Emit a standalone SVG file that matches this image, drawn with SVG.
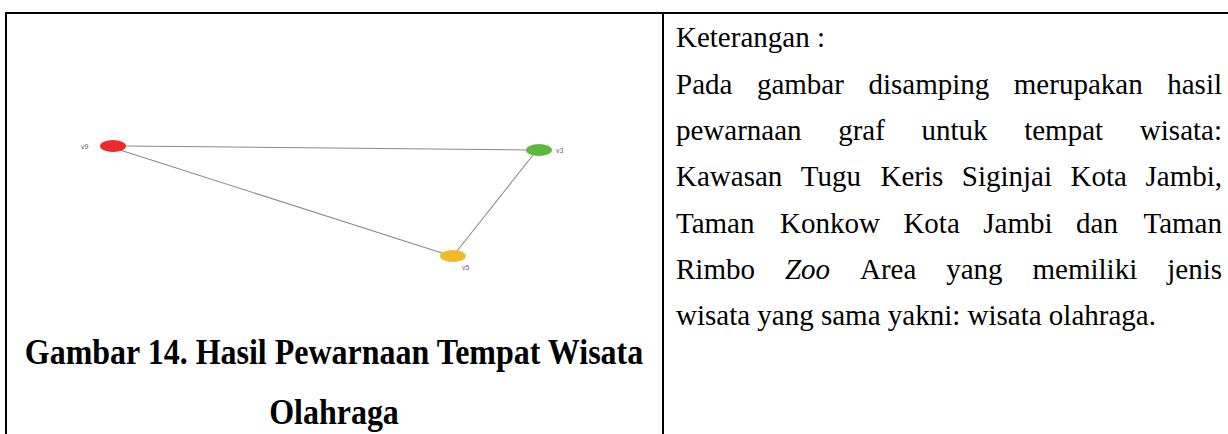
<svg xmlns="http://www.w3.org/2000/svg" width="1228" height="434" viewBox="0 0 1228 434">
  <style>
    .rule { stroke: #000; stroke-width: 2; fill: none; }
    .edge { stroke: #8a8a8a; stroke-width: 1.1; fill: none; }
    .vlabel { font-family: "Liberation Sans", Arial, sans-serif; font-size: 7px; fill: #666; }
    .body { font-family: "Liberation Serif", "Times New Roman", serif; font-size: 29px; fill: #000; }
    .caption { font-family: "Liberation Serif", "Times New Roman", serif; font-size: 32px; font-weight: bold; fill: #000; text-anchor: middle; }
  </style>
  <rect width="1228" height="434" fill="#fff"/>

  <!-- table rules -->
  <g id="table">
    <line class="rule" x1="5" y1="13" x2="1228" y2="13"/>
    <line class="rule" x1="6" y1="12" x2="6" y2="434"/>
    <line class="rule" x1="663" y1="12" x2="663" y2="434"/>
  </g>

  <!-- graph edges -->
  <g id="edges">
    <line class="edge" x1="124" y1="146" x2="528" y2="150"/>
    <line class="edge" x1="120" y1="150" x2="442" y2="253"/>
    <line class="edge" x1="533" y1="155" x2="457" y2="251"/>
  </g>

  <!-- graph vertices -->
  <g id="v9">
    <ellipse cx="113" cy="146" rx="13" ry="6" fill="#ec2a2a"/>
    <text class="vlabel" x="81" y="148.5">v9</text>
  </g>
  <g id="v3">
    <ellipse cx="539" cy="150" rx="13" ry="6" fill="#5cb940"/>
    <text class="vlabel" x="556" y="152.5">v3</text>
  </g>
  <g id="v5">
    <ellipse cx="453" cy="256" rx="13" ry="6" fill="#f2b928"/>
    <text class="vlabel" x="462" y="270">v5</text>
  </g>

  <!-- figure caption (slightly tall lettering) -->
  <g id="caption">
    <text class="caption" transform="translate(334,364) scale(1,1.1)">Gambar 14. Hasil Pewarnaan Tempat Wisata</text>
    <text class="caption" transform="translate(334,424) scale(1,1.1)">Olahraga</text>
  </g>

  <!-- description column (justified) -->
  <g id="keterangan">
    <text class="body" x="676" y="47">Keterangan :</text>
    <text class="body" y="94"><tspan x="676">Pada</tspan><tspan x="756.9">gambar</tspan><tspan x="868.5">disamping</tspan><tspan x="1013.8">merupakan</tspan><tspan x="1222" text-anchor="end">hasil</tspan></text>
    <text class="body" y="140"><tspan x="676">pewarnaan</tspan><tspan x="838.2">graf</tspan><tspan x="921.5">untuk</tspan><tspan x="1024.2">tempat</tspan><tspan x="1222" text-anchor="end">wisata:</tspan></text>
    <text class="body" y="186"><tspan x="676">Kawasan</tspan><tspan x="800.8">Tugu</tspan><tspan x="880.5">Keris</tspan><tspan x="961.8">Siginjai</tspan><tspan x="1070.5">Kota</tspan><tspan x="1222" text-anchor="end">Jambi,</tspan></text>
    <text class="body" y="233"><tspan x="676">Taman</tspan><tspan x="780">Konkow</tspan><tspan x="903.4">Kota</tspan><tspan x="983.3">Jambi</tspan><tspan x="1076.1">dan</tspan><tspan x="1222" text-anchor="end">Taman</tspan></text>
    <text class="body" y="279"><tspan x="676">Rimbo</tspan><tspan x="784.9" font-style="italic">Zoo</tspan><tspan x="860">Area</tspan><tspan x="946.2">yang</tspan><tspan x="1032.5">memiliki</tspan><tspan x="1222" text-anchor="end">jenis</tspan></text>
    <text class="body" x="676" y="325">wisata yang sama yakni: wisata olahraga.</text>
  </g>
</svg>
